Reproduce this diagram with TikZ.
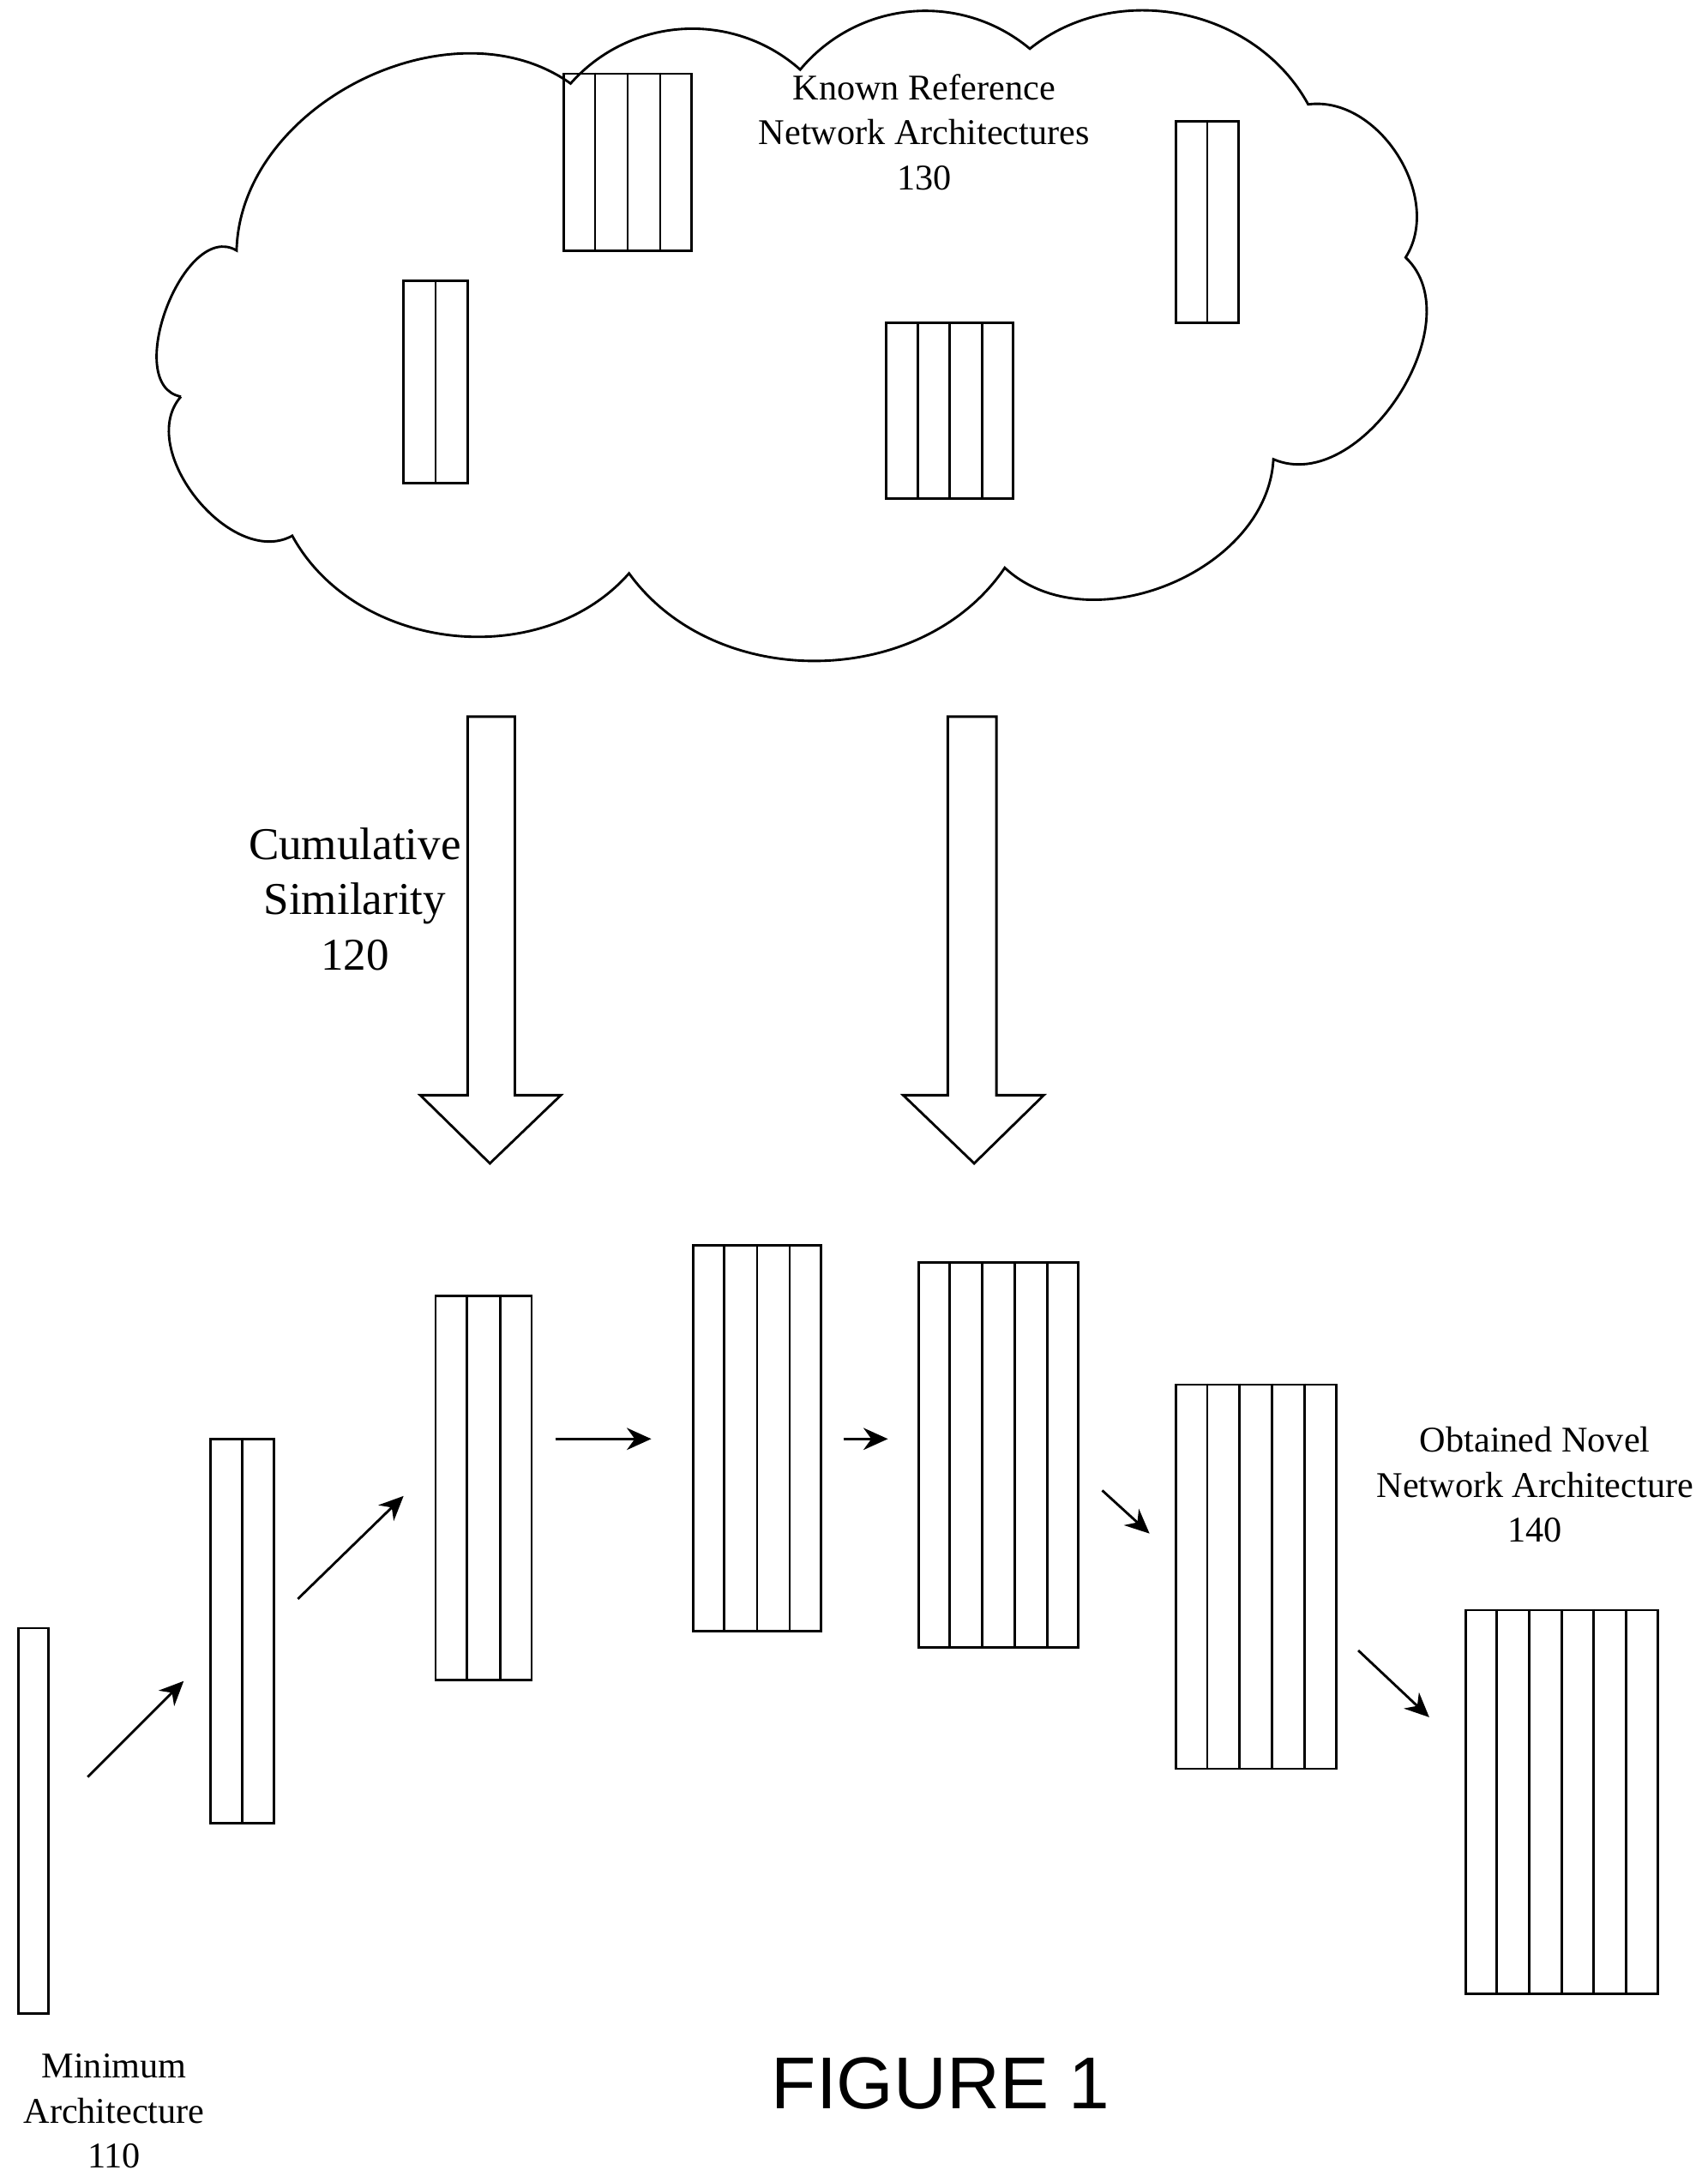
\documentclass[tikz,border=0pt]{standalone}
\usepackage{fontspec}
\setmainfont{Liberation Serif}
\setsansfont{Liberation Sans}
\usetikzlibrary{calc,arrows.meta}
% stack of layers: name, x1, y1, x2, y2, columns
\newcommand{\layerstack}[6]{%
  \node[layer, minimum width={(#4-#2)*0.01cm}, minimum height={(#5-#3)*0.01cm}]
    (#1) at ({(#2+#4)/2},{(#3+#5)/2}) {};
  \ifnum#6>1
    \foreach \i in {1,...,\numexpr#6-1\relax}
      \draw ($(#1.north west)!\i/#6!(#1.north east)$) -- ($(#1.south west)!\i/#6!(#1.south east)$);
  \fi}
\begin{document}
\begin{tikzpicture}[x=0.01cm, y=-0.01cm, line width=0.5pt,
                    layer/.style={draw, inner sep=0pt},
                    label text/.style={align=center, font=\fontsize{7.4}{9.2}\selectfont},
                    step arrow/.style={-{Stealth[length=5pt,width=4.5pt]}},
                    big arrow/.style={draw, fill=white},
                    puff/.style={bend left=#1}]
  \useasboundingbox (0,0) rectangle (1227,1568);

  % cloud outline
  \coordinate (c0) at (130,285);  \coordinate (c1) at (170,180);
  \coordinate (c3) at (410,60);
  \coordinate (c4) at (575,50);   \coordinate (c5) at (740,35);
  \coordinate (c6) at (940,75);   \coordinate (c7) at (1010,185);
  \coordinate (c8) at (915,330);  \coordinate (c9) at (722,408);
  \coordinate (c10) at (452,412); \coordinate (c11) at (210,385);
  \draw (c0) to[puff=100] (c1) to[puff=62] (c3) to[puff=45] (c4)
    to[puff=45] (c5) to[puff=50] (c6) to[puff=65] (c7) to[puff=80] (c8)
    to[puff=65] (c9) to[puff=55] (c10) to[puff=55] (c11) to[puff=80] (c0);
  \node[label text] (known) at (664,95) {Known Reference\\Network Architectures\\130};

  \layerstack{ref1}{405}{53}{497}{180}{4}
  \layerstack{ref2}{845}{87}{890}{232}{2}
  \layerstack{ref3}{290}{202}{336}{347}{2}
  \layerstack{ref4}{637}{232}{728}{358}{4}

  % similarity arrows
  \draw[big arrow] (336,515) -- (370,515) -- (370,787) -- (403,787) -- (352,836)
    -- (302,787) -- (336,787) -- cycle;
  \draw[big arrow] (681,515) -- (716,515) -- (716,787) -- (750,787) -- (700,836)
    -- (649,787) -- (681,787) -- cycle;
  \node[label text, fill=white, inner sep=1pt, font=\fontsize{9.3}{11.3}\selectfont]
    (cumsim) at (255,646) {Cumulative\\Similarity\\120};

  \layerstack{arch1}{13}{1170}{35}{1447}{1}
  \layerstack{arch2}{151}{1034}{197}{1310}{2}
  \layerstack{arch3}{313}{931}{382}{1207}{3}
  \layerstack{arch4}{498}{895}{590}{1172}{4}
  \layerstack{arch5}{660}{907}{775}{1184}{5}
  \layerstack{arch6}{845}{995}{960}{1271}{5}
  \layerstack{arch7}{1053}{1157}{1191}{1433}{6}

  \coordinate (a1) at (63,1277);  \coordinate (b1) at (132,1208);
  \coordinate (a2) at (214,1149); \coordinate (b2) at (290,1075);
  \coordinate (a3) at (399,1034); \coordinate (b3) at (468,1034);
  \coordinate (a4) at (606,1034); \coordinate (b4) at (638,1034);
  \coordinate (a5) at (792,1071); \coordinate (b5) at (826,1102);
  \coordinate (a6) at (976,1186); \coordinate (b6) at (1027,1234);
  \foreach \k in {1,...,6}
    \draw[step arrow] (a\k) -- (b\k);

  \node[label text] (minarch) at (82,1517) {Minimum\\Architecture\\110};
  \node[label text] (novel) at (1103,1067) {Obtained Novel\\Network Architecture\\140};
  \node[font=\sffamily\fontsize{15}{18}\selectfont] (fig) at (676,1497) {FIGURE 1};
\end{tikzpicture}
\end{document}
